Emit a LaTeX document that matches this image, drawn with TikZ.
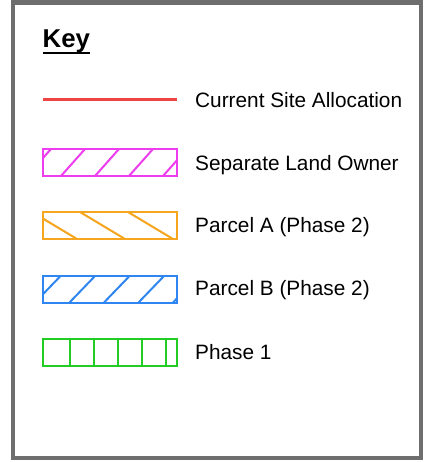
\documentclass[tikz,border=0pt]{standalone}
\usepackage{fontspec}
\setmainfont{Liberation Sans}
\definecolor{framegray}{HTML}{6E6E6E}
\definecolor{keyred}{HTML}{EE4444}
\definecolor{keymag}{HTML}{EE3DEE}
\definecolor{keyorange}{HTML}{F5A51E}
\definecolor{keyblue}{HTML}{2F86F0}
\definecolor{keygreen}{HTML}{22CC22}
\tikzset{
  lbl/.style={anchor=base west, inner sep=0pt, font=\fontsize{20.8}{24}\selectfont},
  swatch/.style={draw=#1, line width=2pt, minimum width=134pt, minimum height=27pt, inner sep=0pt},
  hatch/.style={draw=#1, line width=2pt},
}
\begin{document}
\begin{tikzpicture}[x=1pt,y=-1pt]
\useasboundingbox (0,0) rectangle (428,462);
\fill[white] (0,0) rectangle (428,462);
\draw[framegray, line width=4.5pt] (13,2.5) rectangle (421,458);
% title
\node[anchor=base west, inner sep=0pt, font=\bfseries\fontsize{25.8}{30}\selectfont] (key) at (42.5,47.3) {Key};
\draw[line width=2pt] ([yshift=-6pt]key.base west) -- ([yshift=-6pt]key.base east);
% current site allocation
\coordinate (redA) at (43,100);
\coordinate (redB) at (177,100);
\draw[keyred, line width=3pt] (redA) -- (redB);
\node[lbl] (t1) at (195,108) {Current Site Allocation};
% separate land owner
\node[swatch=keymag, path picture={
  \foreach \b in {-16,18,52,86,120}
    \draw[hatch=keymag] ([xshift=\b pt]path picture bounding box.south west) -- ++(24pt,27pt);
}] (s2) at (110,162.5) {};
\node[lbl] (t2) at (195,170.5) {Separate Land Owner};
% parcel A
\node[swatch=keyorange, path picture={
  \foreach \b in {-11,37,85,133}
    \draw[hatch=keyorange] ([xshift=\b pt]path picture bounding box.north west) -- ++(45pt,-27pt);
}] (s3) at (110,225.5) {};
\node[lbl] (t3) at (195,232) {Parcel A (Phase 2)};
% parcel B
\node[swatch=keyblue, path picture={
  \foreach \b in {-8,26.5,61,95.5,130}
    \draw[hatch=keyblue] ([xshift=\b pt]path picture bounding box.south west) -- ++(26pt,27pt);
}] (s4) at (110,289) {};
\node[lbl] (t4) at (195,295.5) {Parcel B (Phase 2)};
% phase 1
\node[swatch=keygreen, path picture={
  \foreach \b in {26.5,50.5,74.5,98.5,122.5}
    \draw[hatch=keygreen] ([xshift=\b pt]path picture bounding box.south west) -- ++(0pt,27pt);
}] (s5) at (110,352.2) {};
\node[lbl] (t5) at (195,359.5) {Phase 1};
\end{tikzpicture}
\end{document}
